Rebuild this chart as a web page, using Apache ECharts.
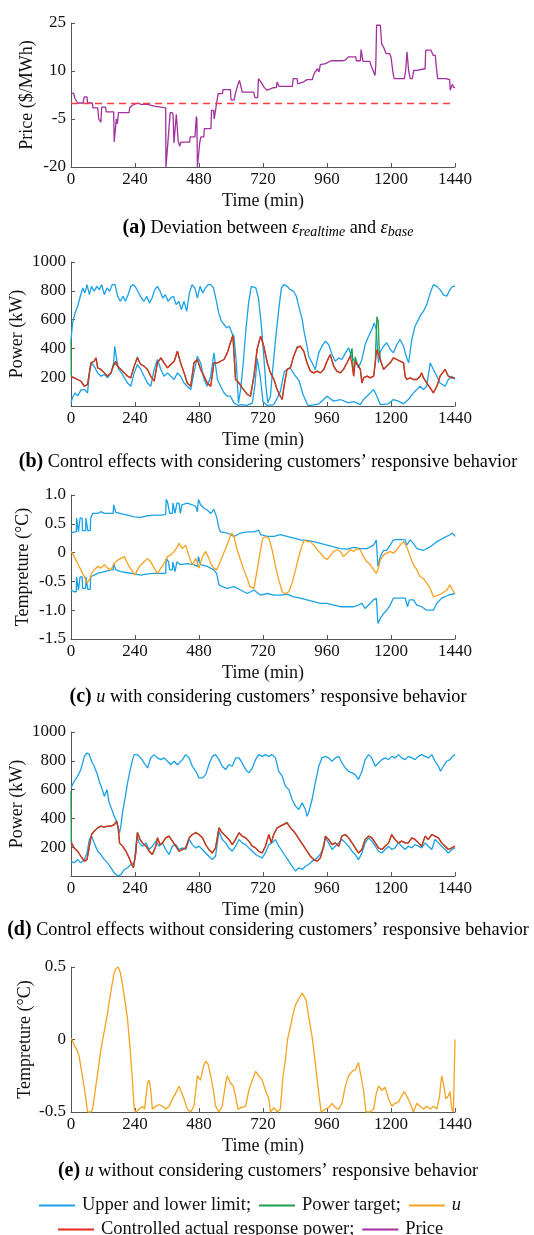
<!DOCTYPE html>
<html><head><meta charset="utf-8">
<script src="https://cdn.jsdelivr.net/npm/echarts@6/dist/echarts.min.js"></script>
<style>html,body{margin:0;padding:0;background:#fff}#c{width:534px;height:1235px}</style>
</head><body><div id="c"></div>
<script>
// ---------- DATA (time in min, value) ----------
const timeTicks = [0,240,480,720,960,1200,1440];
const baseDeviation = 0;
const price = [[0,3.1],[10,3],[15,1.4],[25,0],[45,0],[50,1.9],[60,1.9],[62,0],[80,0],[82,-1.5],[100,-1.5],[104,-5],[112,-6],[115,-1.3],[130,-1.3],[132,-2.8],[160,-2.8],[162,-12.2],[168,-12.2],[170,-5],[174,-6.5],[178,-3],[218,-3],[220,-1.5],[230,-0.7],[250,0],[262,-0.4],[287,-0.4],[290,-1],[312,-1],[315,-1.5],[355,-1.5],[356,-20],[362,-20],[363,-12.7],[370,-12.7],[372,-3],[380,-3],[383,-3.9],[386,-12.5],[392,-12.5],[395,-3.5],[400,-3.5],[402,-12],[408,-13.5],[412,-12.2],[445,-12.2],[447,-10.6],[465,-10.6],[470,-4.2],[472,-5],[474,-20],[480,-20],[483,-12.2],[487,-10.6],[498,-10.6],[500,-8],[525,-8],[527,-2.3],[535,-2.3],[537,-5],[540,-5],[542,-2.3],[546,0],[552,2.9],[568,2.9],[570,4.2],[598,4.2],[600,1],[612,1],[615,2.4],[620,4],[625,5.5],[632,7.1],[636,7.1],[638,4.8],[642,3.4],[685,3.4],[690,1.7],[700,1.7],[703,7.6],[712,6.6],[725,4.8],[735,4],[760,4.8],[770,4.8],[773,6.6],[780,5.2],[830,5.2],[833,7.6],[848,7.6],[850,6],[870,6.5],[885,7.3],[905,7.3],[908,8.3],[915,9.7],[925,10.7],[930,9.7],[935,12],[940,12.3],[955,12.3],[960,12.8],[975,13.2],[1020,13.2],[1030,13.5],[1040,14.4],[1068,14.4],[1070,13.2],[1085,13.2],[1088,16.7],[1092,16.7],[1095,13],[1120,13],[1125,11.8],[1135,9.7],[1140,8.6],[1143,12],[1146,24.3],[1160,24.3],[1165,18.5],[1172,17.5],[1178,17],[1182,15.4],[1195,15.4],[1200,14.3],[1208,9.2],[1212,7.6],[1250,7.6],[1255,10.2],[1260,16],[1263,16],[1266,10.2],[1272,7.6],[1280,7.6],[1285,10.2],[1297,10.2],[1300,10.7],[1328,10.7],[1330,16.5],[1350,16.5],[1358,14.9],[1366,14.9],[1370,11.2],[1375,7.6],[1405,7.6],[1410,7.3],[1420,7.3],[1422,4],[1428,4],[1430,5.9],[1435,4.8],[1440,4.8]];

const upperB = [[0,460],[6,577],[15,646],[25,693],[35,762],[44,820],[52,785],[60,843],[69,773],[77,831],[87,797],[97,831],[106,808],[115,843],[125,773],[135,820],[145,797],[155,843],[165,843],[175,762],[185,727],[195,762],[204,727],[214,773],[224,831],[234,843],[244,820],[254,785],[264,750],[274,727],[284,762],[294,716],[304,750],[314,808],[324,831],[334,797],[344,750],[354,773],[364,727],[374,750],[384,762],[394,704],[404,727],[414,670],[424,727],[434,658],[444,785],[454,843],[464,820],[474,750],[484,831],[494,785],[504,820],[514,843],[524,843],[534,820],[544,739],[554,646],[564,589],[574,566],[584,543],[594,554],[603,508],[611,485],[620,300],[628,20],[636,114],[646,300],[656,531],[666,716],[676,831],[683,843],[693,820],[703,750],[713,577],[723,346],[731,137],[738,22],[748,68],[754,207],[767,461],[779,669],[789,820],[798,843],[810,831],[823,808],[835,797],[845,762],[854,693],[867,600],[875,508],[883,439],[891,346],[904,300],[916,253],[929,369],[941,415],[954,450],[966,427],[979,357],[991,311],[1004,334],[1016,323],[1029,369],[1041,404],[1054,334],[1066,311],[1078,265],[1091,323],[1103,427],[1116,485],[1128,531],[1137,577],[1145,531],[1153,300],[1160,380],[1172,415],[1184,439],[1197,392],[1209,369],[1222,427],[1234,462],[1247,415],[1257,346],[1266,300],[1278,462],[1290,554],[1303,600],[1312,635],[1322,658],[1328,646],[1334,704],[1347,785],[1359,843],[1372,831],[1384,808],[1396,773],[1409,762],[1421,808],[1431,831],[1440,831]];
const lowerB = [[0,20],[6,60],[15,90],[25,70],[37,110],[50,115],[62,90],[70,250],[77,300],[87,275],[100,230],[112,207],[125,218],[137,195],[150,230],[160,300],[164,415],[170,340],[178,254],[190,230],[200,195],[212,160],[224,137],[237,230],[249,288],[262,254],[274,207],[287,160],[299,137],[312,254],[324,323],[337,254],[349,207],[362,230],[374,207],[387,184],[399,230],[411,207],[424,160],[436,137],[449,114],[461,230],[474,346],[486,300],[499,184],[511,137],[524,207],[536,369],[549,184],[561,137],[574,90],[586,68],[598,68],[611,22],[625,5],[640,10],[660,5],[680,20],[690,150],[698,330],[710,200],[720,30],[735,5],[760,10],[775,60],[785,100],[800,240],[812,255],[822,264],[838,218],[856,172],[870,80],[888,5],[900,5],[930,15],[960,68],[985,34],[1010,45],[1040,22],[1060,30],[1085,10],[1097,45],[1110,68],[1122,91],[1135,114],[1147,68],[1160,10],[1190,15],[1209,45],[1228,34],[1247,15],[1265,45],[1284,91],[1297,114],[1309,137],[1322,114],[1334,137],[1347,300],[1359,254],[1372,207],[1384,160],[1403,137],[1415,184],[1428,207],[1440,184]];
const targetB = [[0,460],[1,205],[12,195],[25,184],[37,172],[50,137],[62,149],[75,300],[87,311],[94,334],[100,265],[112,254],[125,230],[137,207],[150,230],[162,300],[168,311],[175,277],[187,254],[200,230],[212,207],[224,195],[237,277],[249,340],[255,311],[262,288],[274,277],[287,254],[299,207],[312,172],[324,300],[337,334],[349,300],[362,265],[374,288],[387,311],[399,380],[411,300],[424,230],[436,160],[449,137],[461,300],[474,323],[486,254],[499,207],[511,160],[524,137],[536,300],[549,300],[561,311],[574,323],[586,369],[598,439],[607,495],[611,369],[617,184],[630,160],[642,126],[661,80],[673,68],[686,207],[698,400],[711,485],[723,415],[736,300],[748,230],[761,184],[773,114],[785,68],[792,45],[798,126],[810,254],[823,270],[835,346],[848,410],[860,415],[873,380],[885,300],[898,242],[910,230],[923,242],[935,230],[948,254],[960,311],[972,357],[985,277],[997,242],[1010,230],[1022,254],[1035,300],[1047,346],[1050,340],[1054,400],[1058,260],[1060,207],[1066,340],[1072,300],[1085,254],[1091,160],[1097,195],[1110,207],[1122,195],[1135,207],[1141,300],[1147,620],[1152,590],[1156,380],[1160,323],[1172,254],[1184,277],[1197,300],[1209,334],[1222,323],[1234,311],[1247,300],[1253,207],[1259,184],[1272,195],[1284,184],[1297,184],[1309,207],[1315,230],[1322,195],[1334,160],[1347,126],[1359,91],[1372,137],[1384,207],[1403,254],[1415,207],[1428,195],[1440,195]];
const actualB = [[0,205],[12,195],[25,184],[37,172],[50,137],[62,149],[75,300],[87,311],[94,334],[100,265],[112,254],[125,230],[137,207],[150,230],[162,288],[168,311],[175,277],[187,254],[200,230],[212,207],[224,195],[237,277],[249,334],[255,311],[262,288],[274,277],[287,254],[299,207],[312,172],[324,300],[337,334],[349,300],[362,265],[374,288],[387,311],[399,380],[411,300],[424,230],[436,160],[449,137],[461,300],[474,323],[486,254],[499,207],[511,160],[524,137],[536,300],[549,300],[561,311],[574,323],[586,369],[598,439],[607,489],[611,369],[617,184],[630,160],[642,126],[661,80],[673,68],[686,207],[698,392],[711,485],[723,415],[736,300],[748,230],[761,184],[773,114],[785,68],[792,45],[798,126],[810,254],[823,265],[835,346],[848,404],[860,415],[873,380],[885,300],[898,242],[910,230],[923,242],[935,230],[948,254],[960,311],[972,357],[985,277],[997,242],[1010,230],[1022,254],[1035,300],[1047,346],[1053,300],[1060,207],[1066,311],[1072,300],[1085,254],[1091,160],[1097,195],[1110,207],[1122,195],[1135,207],[1141,300],[1147,392],[1160,323],[1172,254],[1184,277],[1197,300],[1209,334],[1222,323],[1234,311],[1247,300],[1253,207],[1259,184],[1272,195],[1284,184],[1297,184],[1309,207],[1315,230],[1322,195],[1334,160],[1347,126],[1359,91],[1372,137],[1384,207],[1403,254],[1415,207],[1428,195],[1440,195]];

const upperC = [[0,0.34],[12,0.36],[20,0.36],[21,0.6],[27,0.6],[28,0.36],[33,0.36],[34,0.6],[42,0.6],[43,0.38],[55,0.38],[56,0.6],[62,0.6],[63,0.38],[72,0.38],[74,0.6],[81,0.68],[100,0.68],[112,0.71],[125,0.68],[150,0.68],[158,0.68],[160,0.83],[166,0.83],[168,0.7],[175,0.68],[212,0.65],[237,0.62],[262,0.61],[287,0.64],[312,0.65],[337,0.65],[355,0.66],[357,0.92],[362,0.88],[366,0.86],[370,0.68],[380,0.68],[382,0.86],[388,0.86],[390,0.68],[395,0.68],[397,0.86],[405,0.86],[410,0.68],[414,0.68],[416,0.83],[436,0.86],[455,0.83],[468,0.8],[474,0.71],[478,0.92],[481,0.92],[486,0.83],[499,0.77],[511,0.74],[524,0.68],[536,0.75],[546,0.62],[555,0.42],[561,0.36],[586,0.34],[611,0.28],[636,0.34],[661,0.36],[686,0.36],[704,0.39],[711,0.31],[736,0.28],[761,0.28],[785,0.31],[810,0.28],[835,0.25],[860,0.22],[885,0.21],[910,0.19],[935,0.16],[960,0.13],[985,0.10],[1010,0.07],[1035,0.06],[1060,0.09],[1085,0.07],[1110,0.07],[1135,0.13],[1145,0.22],[1149,0.22],[1151,-0.24],[1160,-0.07],[1172,0.04],[1184,0.04],[1197,0.13],[1209,0.22],[1234,0.23],[1253,0.22],[1259,0.13],[1272,0.22],[1284,0.16],[1297,0.07],[1322,0.04],[1347,0.10],[1372,0.19],[1396,0.25],[1421,0.31],[1431,0.34],[1440,0.28]];
const lowerC = [[0,-0.65],[12,-0.68],[20,-0.68],[21,-0.42],[27,-0.42],[28,-0.65],[33,-0.65],[34,-0.42],[42,-0.42],[43,-0.62],[55,-0.62],[56,-0.42],[62,-0.42],[63,-0.64],[72,-0.64],[74,-0.42],[81,-0.42],[100,-0.36],[125,-0.33],[150,-0.30],[158,-0.30],[160,-0.19],[166,-0.19],[168,-0.3],[187,-0.33],[212,-0.35],[237,-0.37],[262,-0.39],[287,-0.37],[312,-0.36],[337,-0.36],[355,-0.36],[357,-0.10],[366,-0.16],[370,-0.3],[380,-0.3],[382,-0.16],[388,-0.16],[390,-0.33],[395,-0.33],[397,-0.16],[411,-0.21],[436,-0.19],[461,-0.21],[474,-0.24],[478,-0.07],[481,-0.07],[486,-0.21],[511,-0.24],[536,-0.30],[546,-0.36],[555,-0.56],[567,-0.59],[586,-0.62],[611,-0.59],[636,-0.65],[661,-0.71],[686,-0.65],[711,-0.74],[736,-0.71],[761,-0.74],[785,-0.74],[810,-0.72],[835,-0.77],[860,-0.79],[885,-0.82],[910,-0.85],[935,-0.88],[960,-0.88],[985,-0.91],[1010,-0.94],[1035,-0.94],[1060,-0.94],[1078,-0.91],[1091,-0.88],[1103,-0.97],[1122,-0.88],[1135,-0.82],[1145,-0.79],[1149,-0.79],[1151,-1.23],[1160,-1.14],[1172,-1.06],[1184,-1.0],[1197,-0.91],[1209,-0.79],[1234,-0.79],[1253,-0.79],[1262,-0.94],[1269,-0.82],[1284,-0.82],[1297,-0.91],[1315,-0.94],[1334,-1.0],[1359,-1.0],[1372,-0.88],[1390,-0.79],[1415,-0.74],[1440,-0.71]];
const uC = [[0,0.02],[12,-0.07],[25,-0.19],[37,-0.30],[50,-0.42],[60,-0.53],[69,-0.47],[77,-0.36],[87,-0.30],[100,-0.24],[112,-0.27],[125,-0.21],[137,-0.27],[150,-0.30],[162,-0.19],[175,-0.13],[187,-0.10],[200,-0.07],[209,-0.16],[218,-0.24],[231,-0.33],[240,-0.39],[249,-0.30],[262,-0.21],[274,-0.16],[287,-0.10],[299,-0.16],[312,-0.27],[324,-0.36],[337,-0.27],[349,-0.19],[362,-0.07],[374,-0.04],[387,0.02],[399,0.10],[405,0.16],[418,0.07],[430,0.13],[443,-0.07],[455,-0.21],[468,-0.10],[480,-0.27],[493,-0.07],[505,0.02],[511,0.05],[517,-0.10],[526,-0.21],[536,-0.27],[546,-0.30],[555,-0.21],[567,-0.07],[580,0.07],[592,0.22],[602,0.34],[611,0.28],[623,0.05],[636,-0.13],[648,-0.30],[661,-0.45],[671,-0.59],[676,-0.62],[686,-0.62],[698,-0.30],[711,0.05],[719,0.25],[729,0.28],[742,0.25],[754,0.05],[767,-0.24],[779,-0.47],[792,-0.68],[804,-0.71],[817,-0.68],[829,-0.53],[842,-0.30],[854,-0.07],[867,0.13],[875,0.22],[885,0.19],[898,0.19],[910,0.13],[923,0.05],[935,-0.01],[948,-0.08],[960,-0.12],[972,-0.06],[985,0.02],[997,0.05],[1010,0.02],[1022,-0.07],[1035,-0.01],[1047,0.05],[1060,0.02],[1072,0.07],[1085,0.05],[1097,-0.07],[1110,-0.16],[1122,-0.21],[1135,-0.30],[1145,-0.36],[1151,-0.30],[1160,-0.13],[1172,-0.04],[1184,-0.01],[1197,0.02],[1209,-0.01],[1222,0.05],[1234,0.13],[1247,0.19],[1259,0.10],[1272,-0.07],[1284,-0.21],[1297,-0.30],[1309,-0.42],[1322,-0.45],[1334,-0.53],[1347,-0.62],[1359,-0.77],[1365,-0.79],[1378,-0.74],[1390,-0.71],[1409,-0.65],[1421,-0.56],[1431,-0.65],[1440,-0.71]];

const upperD = [[0,612],[2,623],[12,658],[25,693],[37,739],[50,831],[60,854],[69,843],[77,797],[87,762],[97,716],[106,658],[115,612],[125,554],[135,600],[143,508],[153,462],[162,415],[171,380],[177,334],[182,300],[187,346],[193,439],[202,531],[212,646],[222,739],[231,808],[237,843],[249,843],[262,820],[274,785],[287,750],[299,820],[312,843],[324,820],[337,808],[349,820],[362,797],[374,773],[387,797],[399,773],[418,808],[430,843],[443,820],[455,762],[468,727],[480,681],[493,681],[505,704],[517,773],[530,831],[542,843],[555,808],[567,762],[580,739],[592,773],[605,762],[617,820],[630,820],[642,785],[655,739],[667,716],[680,750],[692,808],[704,843],[717,831],[729,843],[742,831],[754,843],[767,820],[779,727],[792,693],[804,623],[817,600],[829,531],[842,485],[854,462],[867,508],[879,462],[885,415],[891,439],[904,531],[916,646],[929,762],[941,820],[954,831],[966,820],[979,797],[991,820],[1004,831],[1016,785],[1029,750],[1041,727],[1054,716],[1066,704],[1078,670],[1091,727],[1103,808],[1116,843],[1128,820],[1141,762],[1153,785],[1166,808],[1178,820],[1191,808],[1203,831],[1215,820],[1228,843],[1240,820],[1253,808],[1265,831],[1278,820],[1290,808],[1303,831],[1315,843],[1328,831],[1340,820],[1353,843],[1365,797],[1378,762],[1386,727],[1396,762],[1409,797],[1421,808],[1431,831],[1440,843]];
const lowerD = [[0,103],[12,91],[25,114],[37,91],[50,114],[60,160],[69,254],[77,277],[87,230],[100,172],[112,149],[125,114],[137,91],[150,57],[162,22],[175,0],[187,10],[200,45],[212,57],[224,80],[237,91],[247,277],[256,230],[268,207],[281,230],[293,184],[305,207],[318,242],[330,207],[343,230],[355,184],[368,149],[380,207],[393,218],[405,184],[418,195],[430,184],[443,254],[455,218],[468,195],[480,207],[493,184],[505,160],[517,137],[530,114],[542,137],[555,311],[567,254],[580,230],[592,195],[605,172],[617,207],[630,254],[642,230],[655,218],[667,195],[680,172],[692,149],[704,137],[717,126],[729,160],[742,218],[754,230],[767,254],[779,207],[792,172],[804,137],[817,103],[829,68],[842,34],[854,57],[867,45],[879,68],[891,80],[904,103],[916,114],[929,137],[941,172],[954,265],[966,230],[979,184],[991,207],[1004,230],[1016,254],[1029,230],[1041,207],[1054,172],[1066,149],[1078,114],[1091,160],[1103,230],[1116,265],[1128,242],[1141,207],[1153,172],[1166,160],[1178,184],[1191,207],[1203,184],[1215,195],[1228,230],[1240,207],[1253,184],[1265,207],[1278,195],[1290,218],[1303,207],[1315,195],[1328,230],[1340,207],[1353,184],[1365,254],[1378,230],[1390,207],[1403,184],[1415,160],[1428,184],[1440,195]];
const targetD = [[0,590],[1,235],[12,195],[25,172],[37,137],[50,103],[60,114],[69,207],[77,288],[87,311],[100,334],[112,346],[125,339],[137,346],[150,346],[162,357],[171,383],[177,334],[182,230],[193,207],[206,172],[218,126],[228,80],[234,57],[243,160],[249,305],[259,254],[268,230],[281,207],[293,172],[305,149],[318,207],[324,265],[334,218],[343,230],[355,265],[368,277],[380,242],[393,207],[405,172],[418,184],[430,195],[443,265],[455,288],[468,303],[480,288],[493,265],[505,218],[517,184],[530,160],[542,195],[555,336],[567,300],[580,277],[592,254],[605,218],[617,254],[630,300],[642,277],[655,265],[667,242],[680,207],[692,195],[704,172],[717,160],[729,207],[742,288],[751,230],[760,288],[773,334],[785,346],[798,360],[810,372],[823,334],[835,311],[848,277],[860,242],[873,207],[885,172],[898,137],[910,114],[923,103],[935,126],[948,207],[954,277],[966,254],[979,218],[991,230],[1004,207],[1016,280],[1029,288],[1041,265],[1054,230],[1066,195],[1078,160],[1091,184],[1103,254],[1116,277],[1128,265],[1141,230],[1153,195],[1166,184],[1178,207],[1191,230],[1203,288],[1215,254],[1228,230],[1240,242],[1253,230],[1265,230],[1278,265],[1290,254],[1303,230],[1315,207],[1328,277],[1340,254],[1353,290],[1365,277],[1378,265],[1390,230],[1403,207],[1415,184],[1428,195],[1440,207]];
const actualD = [[0,230],[12,195],[25,172],[37,137],[50,103],[60,114],[69,207],[77,288],[87,311],[100,334],[112,346],[125,339],[137,346],[150,346],[162,357],[171,380],[177,334],[182,230],[193,207],[206,172],[218,126],[228,80],[234,57],[243,160],[249,300],[259,254],[268,230],[281,207],[293,172],[305,149],[318,207],[324,265],[334,218],[343,230],[355,265],[368,277],[380,242],[393,207],[405,172],[418,184],[430,195],[443,265],[455,288],[468,300],[480,288],[493,265],[505,218],[517,184],[530,160],[542,195],[555,334],[567,300],[580,277],[592,254],[605,218],[617,254],[630,300],[642,277],[655,265],[667,242],[680,207],[692,195],[704,172],[717,160],[729,207],[742,288],[751,230],[760,288],[773,334],[785,346],[798,357],[810,369],[823,334],[835,311],[848,277],[860,242],[873,207],[885,172],[898,137],[910,114],[923,103],[935,126],[948,207],[954,277],[966,254],[979,218],[991,230],[1004,207],[1016,277],[1029,288],[1041,265],[1054,230],[1066,195],[1078,160],[1091,184],[1103,254],[1116,277],[1128,265],[1141,230],[1153,195],[1166,184],[1178,207],[1191,230],[1203,288],[1215,254],[1228,230],[1240,242],[1253,230],[1265,230],[1278,265],[1290,254],[1303,230],[1315,207],[1328,277],[1340,254],[1353,288],[1365,277],[1378,265],[1390,230],[1403,207],[1415,184],[1428,195],[1440,207]];

const uE = [[0,0.01],[6,-0.01],[12,-0.04],[22,-0.07],[31,-0.12],[37,-0.19],[47,-0.30],[56,-0.41],[62,-0.5],[75,-0.5],[81,-0.48],[91,-0.35],[100,-0.23],[112,-0.07],[125,0.06],[137,0.18],[143,0.26],[153,0.37],[162,0.46],[168,0.49],[177,0.5],[185,0.46],[193,0.38],[202,0.27],[212,0.14],[222,-0.07],[231,-0.30],[237,-0.48],[243,-0.5],[256,-0.48],[268,-0.46],[276,-0.48],[287,-0.30],[293,-0.28],[299,-0.35],[305,-0.48],[318,-0.46],[330,-0.45],[343,-0.46],[355,-0.48],[368,-0.46],[380,-0.41],[393,-0.37],[405,-0.32],[411,-0.35],[424,-0.41],[436,-0.48],[449,-0.5],[461,-0.46],[474,-0.25],[486,-0.28],[496,-0.19],[505,-0.15],[514,-0.17],[524,-0.25],[534,-0.35],[542,-0.46],[555,-0.5],[567,-0.46],[580,-0.30],[586,-0.25],[598,-0.30],[608,-0.32],[617,-0.39],[626,-0.48],[638,-0.47],[655,-0.46],[667,-0.35],[680,-0.28],[692,-0.22],[704,-0.25],[717,-0.28],[729,-0.35],[742,-0.41],[748,-0.5],[761,-0.47],[773,-0.5],[785,-0.48],[795,-0.25],[804,-0.14],[812,0.0],[823,0.09],[833,0.18],[842,0.24],[851,0.27],[860,0.30],[867,0.32],[873,0.30],[882,0.27],[891,0.16],[904,0.02],[916,-0.16],[929,-0.37],[938,-0.5],[954,-0.48],[966,-0.47],[979,-0.44],[991,-0.47],[1004,-0.48],[1016,-0.44],[1029,-0.32],[1041,-0.25],[1054,-0.22],[1066,-0.21],[1078,-0.16],[1087,-0.25],[1097,-0.35],[1106,-0.5],[1122,-0.5],[1135,-0.48],[1145,-0.37],[1153,-0.32],[1166,-0.35],[1178,-0.33],[1191,-0.41],[1203,-0.46],[1215,-0.44],[1228,-0.43],[1240,-0.39],[1250,-0.36],[1259,-0.39],[1272,-0.44],[1284,-0.5],[1297,-0.44],[1309,-0.46],[1322,-0.48],[1334,-0.46],[1347,-0.48],[1359,-0.46],[1372,-0.48],[1382,-0.39],[1390,-0.25],[1396,-0.30],[1406,-0.41],[1415,-0.39],[1421,-0.36],[1428,-0.48],[1434,-0.5],[1439,-0.5],[1440,0.0]];

const legendRow1 = ['Upper and lower limit;','Power target;','u'];
const legendRow2 = ['Controlled actual response power;','Price'];
const yNames = ['Price ($/MWh)','Power (kW)','Tempreture (°C)','Power (kW)','Tempreture (°C)'];
const captions = [
  '{b|(a)}{n| Deviation between }{i|ε}{s|realtime}{n| and }{i|ε}{s|base}',
  '{b|(b)}{n| Control effects with considering customers’ responsive behavior}',
  '{b|(c)}{n| }{i|u}{n| with considering customers’ responsive behavior}',
  '{b|(d)}{n| Control effects without considering customers’ responsive behavior}',
  '{b|(e)}{n| }{i|u}{n| without considering customers’ responsive behavior}'
];

// ---------- LAYOUT / STYLE ----------
const FONT = '"Liberation Serif","Times New Roman",serif';
const COL = {blue:'#1BA1E6', green:'#1E9E4A', red:'#E52A1F', orange:'#F5A21E', purple:'#A2309E', dash:'#FF3C3C'};
const AX = '#555';
const TX = '#111';
const grids = [
  {left:71, top:23, width:384, height:144},
  {left:71, top:262, width:384, height:144},
  {left:71, top:495, width:384, height:144},
  {left:71, top:732, width:384, height:144},
  {left:71, top:967, width:384, height:145}
].map(g=>Object.assign(g,{outerBoundsMode:'none', containLabel:false}));
const yCfg = [
  {min:-20, max:25, interval:15, gap:35, fmt:v=>String(v)},
  {min:0, max:1000, interval:200, gap:45, fmt:v=>v===0?'':String(v)},
  {min:-1.5, max:1.0, interval:0.5, gap:39, fmt:v=>v===0?'0':v.toFixed(1)},
  {min:0, max:1000, interval:200, gap:45, fmt:v=>v===0?'':String(v)},
  {min:-0.5, max:0.5, interval:0.5, gap:37, fmt:v=>v===0?'0':v.toFixed(1)}
];
const captionY = [228, 462, 697, 930, 1171];

const xAxes = grids.map((g,i)=>({
  gridIndex:i, type:'value', min:timeTicks[0], max:timeTicks[timeTicks.length-1], interval:timeTicks[1]-timeTicks[0],
  name:'Time (min)', nameLocation:'middle', nameGap:25, nameMoveOverlap:false,
  nameTextStyle:{fontFamily:FONT, fontSize:18, color:TX},
  axisLine:{show:true, onZero:false, lineStyle:{color:AX, width:1}},
  axisTick:{show:true, inside:true, length:4, lineStyle:{color:AX}},
  axisLabel:{fontFamily:FONT, fontSize:17, color:TX, margin:4, formatter:v=>String(v)},
  splitLine:{show:false}
}));
const yAxes = grids.map((g,i)=>({
  gridIndex:i, type:'value', min:yCfg[i].min, max:yCfg[i].max, interval:yCfg[i].interval,
  name:yNames[i], nameLocation:'middle', nameGap:yCfg[i].gap, nameRotate:90, nameMoveOverlap:false,
  nameTextStyle:{fontFamily:FONT, fontSize:18, color:TX},
  axisLine:{show:true, onZero:false, lineStyle:{color:AX, width:1}},
  axisTick:{show:true, inside:true, length:4, lineStyle:{color:AX}},
  axisLabel:{fontFamily:FONT, fontSize:17, color:TX, margin:5, formatter:yCfg[i].fmt},
  splitLine:{show:false}
}));

function ln(name, data, color, gi, z){
  return {name, type:'line', xAxisIndex:gi, yAxisIndex:gi, data, color, showSymbol:false, symbol:'none',
    lineStyle:{color, width:1.3}, itemStyle:{color}, z:z||2, animation:false, clip:true, silent:true};
}
const series = [
  Object.assign(ln('Price', price, COL.purple, 0, 3), {
    markLine:{silent:true, symbol:'none', label:{show:false},
      lineStyle:{color:COL.dash, type:[7,5], width:1.3}, data:[{yAxis:baseDeviation}], animation:false}
  }),
  ln('Upper and lower limit;', upperB, COL.blue, 1, 2),
  ln('Upper and lower limit;', lowerB, COL.blue, 1, 2),
  ln('Power target;', targetB, COL.green, 1, 3),
  ln('Controlled actual response power;', actualB, COL.red, 1, 4),
  ln('Upper and lower limit;', upperC, COL.blue, 2, 2),
  ln('Upper and lower limit;', lowerC, COL.blue, 2, 2),
  ln('u', uC, COL.orange, 2, 3),
  ln('Upper and lower limit;', upperD, COL.blue, 3, 2),
  ln('Upper and lower limit;', lowerD, COL.blue, 3, 2),
  ln('Power target;', targetD, COL.green, 3, 3),
  ln('Controlled actual response power;', actualD, COL.red, 3, 4),
  ln('u', uE, COL.orange, 4, 3)
];

const capRich = {
  b:{fontFamily:FONT, fontSize:20, fontWeight:'bold', color:TX},
  n:{fontFamily:FONT, fontSize:18.2, color:TX},
  i:{fontFamily:FONT, fontSize:18.2, fontStyle:'italic', color:TX},
  s:{fontFamily:FONT, fontSize:14, fontStyle:'italic', color:TX, padding:[9,0,0,0]}
};
const graphic = captions.map((t,i)=>({
  type:'text', x:268, y:captionY[i], silent:true,
  style:{text:t, rich:capRich, align:'center', verticalAlign:'middle', textAlign:'center', textVerticalAlign:'middle'}
}));

const legendBase = {
  orient:'horizontal', icon:'rect', itemWidth:36, itemHeight:2, itemGap:8, selectedMode:false, padding:0,
  textStyle:{fontFamily:FONT, fontSize:18.5, color:TX, padding:[0,0,0,2],
    rich:{i:{fontFamily:FONT, fontSize:18.5, fontStyle:'italic', color:TX}}},
  formatter:function(n){ return n==='u' ? '{i|u}' : n; }
};
const legend = [
  Object.assign({}, legendBase, {data:legendRow1, left:39, top:1196}),
  Object.assign({}, legendBase, {data:legendRow2, left:58, top:1220})
];

const chart = echarts.init(document.getElementById('c'), null, {renderer:'canvas'});
chart.setOption({
  backgroundColor:'#fff', animation:false,
  grid:grids, xAxis:xAxes, yAxis:yAxes, series, graphic, legend
});
</script></body></html>
